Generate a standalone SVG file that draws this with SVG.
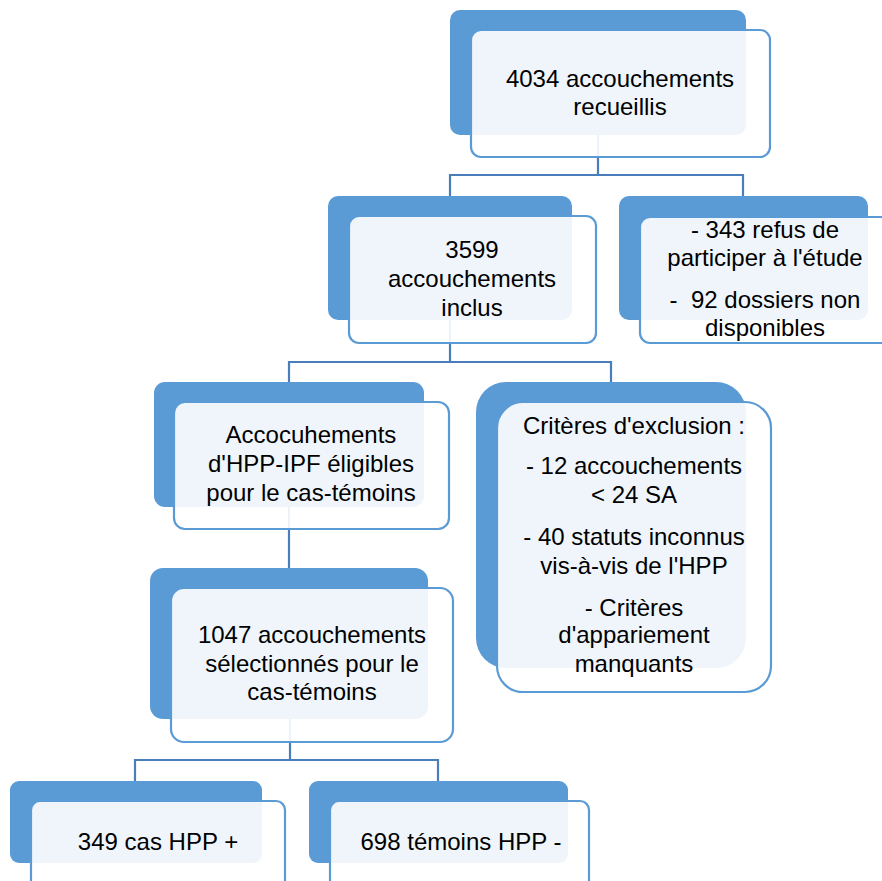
<svg xmlns="http://www.w3.org/2000/svg" width="882" height="881" viewBox="0 0 882 881">
<style>
.bk{fill:#5B9BD5}
.fr{fill:#ffffff;fill-opacity:0.9;stroke:#5B9BD5;stroke-width:2.2}
.cn{fill:none;stroke:#4A7EBB;stroke-width:2.2}
text{font-family:"Liberation Sans",Arial,sans-serif;font-size:24px;fill:#000;text-anchor:middle}
</style>
<rect width="882" height="881" fill="#fff"/>
<g id="connectors">
<path class="cn" d="M598 135V175M450 196V175H743V196"/>
<path class="cn" d="M450 320V362M289 382V362H611V382"/>
<path class="cn" d="M289 507V568"/>
<path class="cn" d="M290 719V760M135 781V760H438V781"/>
</g>
<g id="n1">
<rect class="bk" x="450" y="10" width="296" height="125" rx="10"/>
<rect class="fr" x="471" y="30" width="299" height="127" rx="10"/>
<text x="620" y="87">4034 accouchements</text>
<text x="620" y="115">recueillis</text>
</g>
<g id="n2">
<rect class="bk" x="328" y="196" width="244" height="124" rx="10"/>
<rect class="fr" x="349" y="216" width="247" height="127" rx="10"/>
<text x="472" y="258">3599</text>
<text x="472" y="287">accouchements</text>
<text x="472" y="316">inclus</text>
</g>
<g id="n3">
<rect class="bk" x="619" y="196" width="249" height="124" rx="10"/>
<rect class="fr" x="640" y="217" width="250" height="126" rx="10"/>
<text x="765" y="238">- 343 refus de</text>
<text x="765" y="266">participer à l'étude</text>
<text x="765" y="308" xml:space="preserve">-  92 dossiers non</text>
<text x="765" y="336">disponibles</text>
</g>
<g id="n4">
<rect class="bk" x="154" y="382" width="270" height="125" rx="11"/>
<rect class="fr" x="174" y="402" width="275" height="127" rx="11"/>
<text x="311" y="443">Accocuhements</text>
<text x="311" y="472">d'HPP-IPF éligibles</text>
<text x="311" y="501">pour le cas-témoins</text>
</g>
<g id="n5">
<rect class="bk" x="476" y="382" width="270" height="286" rx="30"/>
<rect class="fr" x="497" y="402" width="274" height="290" rx="26"/>
<text x="634" y="434">Critères d'exclusion :</text>
<text x="634" y="474">- 12 accouchements</text>
<text x="634" y="503">&lt; 24 SA</text>
<text x="634" y="545">- 40 statuts inconnus</text>
<text x="634" y="574">vis-à-vis de l'HPP</text>
<text x="634" y="616">- Critères</text>
<text x="634" y="643">d'appariement</text>
<text x="634" y="672">manquants</text>
</g>
<g id="n6">
<rect class="bk" x="150" y="568" width="278" height="151" rx="13"/>
<rect class="fr" x="171" y="588" width="282" height="154" rx="13"/>
<text x="312" y="643">1047 accouchements</text>
<text x="312" y="672">sélectionnés pour le</text>
<text x="312" y="700">cas-témoins</text>
</g>
<g id="n7">
<rect class="bk" x="10" y="781" width="252" height="82" rx="9"/>
<rect class="fr" x="31" y="801" width="254" height="110" rx="9"/>
<text x="158" y="850">349 cas HPP +</text>
</g>
<g id="n8">
<rect class="bk" x="309" y="781" width="259" height="82" rx="9"/>
<rect class="fr" x="330" y="801" width="259" height="110" rx="9"/>
<text x="461" y="850">698 témoins HPP -</text>
</g>
</svg>
